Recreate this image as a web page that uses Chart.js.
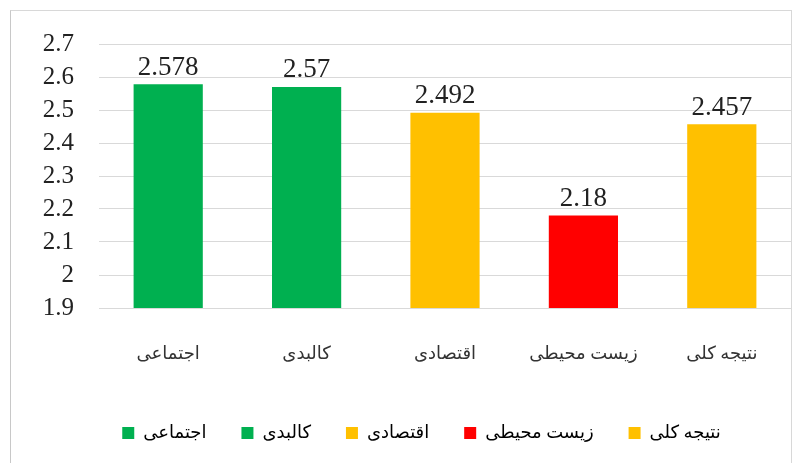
<!DOCTYPE html>
<html>
<head>
<meta charset="utf-8">
<script src="https://cdn.jsdelivr.net/npm/chart.js@4/dist/chart.umd.min.js"></script>
<style>
  body { margin: 0; background: #fff; }
  #frame {
    position: absolute; left: 10px; top: 10px; width: 780px; height: 460px;
    border-left: 1px solid #c8c8c8; border-top: 1px solid #d8d8d8; border-right: 1px solid #d8d8d8;
  }
  #wrap { position: absolute; left: 0; top: 0; width: 806px; height: 463px; }
</style>
</head>
<body>
<div id="frame"></div>
<div id="wrap"><canvas id="barChart" width="806" height="463"></canvas></div>
<script>
const categories = ["اجتماعی", "کالبدی", "اقتصادی", "زیست محیطی", "نتیجه کلی"];
const scores = [2.578, 2.57, 2.492, 2.18, 2.457];
const barColors = ["#00B050", "#00B050", "#FFC000", "#FF0000", "#FFC000"];
const yTicks = [1.9, 2, 2.1, 2.2, 2.3, 2.4, 2.5, 2.6, 2.7];

const serif = "'Liberation Serif', 'DejaVu Sans', serif";

// draw the value above each bar
const valueLabels = {
  id: "valueLabels",
  afterDatasetsDraw(chart) {
    const ctx = chart.ctx;
    const meta = chart.getDatasetMeta(0);
    ctx.save();
    ctx.font = "27px " + serif;
    ctx.fillStyle = "#222";
    ctx.textAlign = "center";
    ctx.textBaseline = "bottom";
    meta.data.forEach((bar, i) => {
      ctx.fillText(String(scores[i]), bar.x, bar.y - 3);
    });
    ctx.restore();
  }
};

// legend sits a little right of centre in the original
const legendShift = {
  id: "legendShift",
  afterLayout(chart) {
    chart.legend.left += 26;
    chart.legend.right += 26;
  }
};

new Chart(document.getElementById("barChart").getContext("2d"), {
  type: "bar",
  data: {
    labels: categories,
    datasets: [{
      data: scores,
      backgroundColor: barColors,
      borderWidth: 0,
      barPercentage: 0.5,
      categoryPercentage: 1
    }]
  },
  options: {
    responsive: false,
    animation: false,
    layout: { padding: { top: 44, right: 15, bottom: 11, left: 0 } },
    scales: {
      x: {
        grid: { display: false },
        border: { display: false },
        ticks: { color: "#333", font: { family: serif, size: 18 }, padding: 27 },
        afterFit(scale) { scale.height = 81; }
      },
      y: {
        min: 1.9,
        max: 2.7,
        afterBuildTicks(scale) { scale.ticks = yTicks.map(v => ({ value: v })); },
        grid: { color: "#d9d9d9", drawTicks: false },
        border: { display: false },
        ticks: {
          color: "#222",
          autoSkip: false,
          font: { family: serif, size: 25 },
          padding: 25,
          callback: v => String(+v.toFixed(1))
        },
        afterFit(scale) { scale.width = 99; }
      }
    },
    plugins: {
      tooltip: { enabled: false },
      legend: {
        position: "bottom",
        labels: {
          color: "#333",
          font: { family: serif, size: 18 },
          boxWidth: 12,
          boxHeight: 12,
          padding: 35,
          generateLabels: () => categories.map((c, i) => ({
            text: c,
            fillStyle: barColors[i],
            strokeStyle: barColors[i],
            lineWidth: 0,
            index: i
          }))
        }
      }
    }
  },
  plugins: [valueLabels, legendShift]
});
</script>
</body>
</html>
